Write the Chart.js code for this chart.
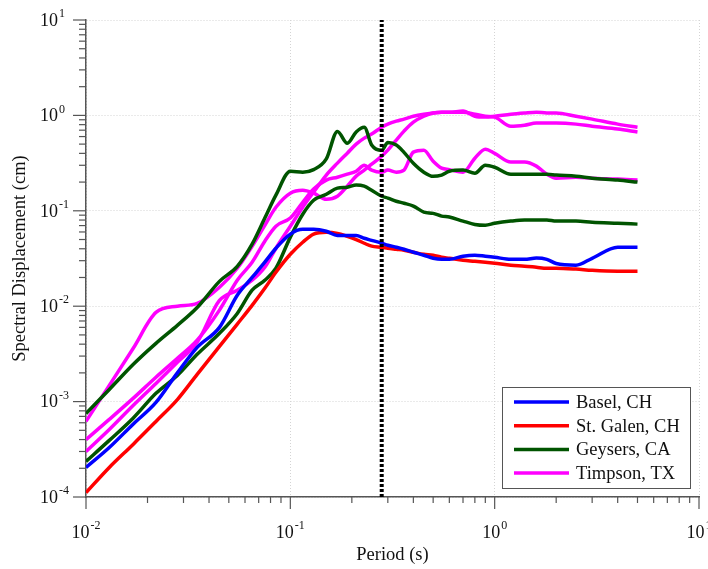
<!DOCTYPE html>
<html>
<head>
<meta charset="utf-8">
<script src="https://cdn.jsdelivr.net/npm/chart.js@4"></script>
<style>
  html, body { margin: 0; padding: 0; background: #fff; }
  canvas { display: block; }
</style>
</head>
<body>
<canvas id="spectraChart" width="708" height="569"></canvas>
<script>
// period grid (s) shared by all curves
const periods = [0.01, 0.013, 0.017, 0.022, 0.028, 0.035, 0.045, 0.055, 0.065, 0.075, 0.085,
  0.1, 0.115, 0.13, 0.15, 0.17, 0.19, 0.21, 0.23, 0.25, 0.28, 0.3, 0.33, 0.36, 0.4, 0.45,
  0.5, 0.55, 0.6, 0.7, 0.8, 0.9, 1.0, 1.2, 1.4, 1.6, 1.8, 2.0, 2.5, 3, 4, 5];

// spectral displacement (cm)
const baselDisp = [2.04e-4, 3.3e-4, 5.8e-4, 9.8e-4, 2.0e-3, 3.7e-3, 6.0e-3, 1.3e-2, 2.0e-2, 2.9e-2, 4.05e-2,
  5.7e-2, 6.4e-2, 6.4e-2, 6.1e-2, 5.5e-2, 5.5e-2, 5.5e-2, 5.15e-2, 4.9e-2, 4.57e-2, 4.36e-2, 4.15e-2, 3.95e-2, 3.68e-2, 3.42e-2,
  3.18e-2, 3.1e-2, 3.1e-2, 3.34e-2, 3.42e-2, 3.34e-2, 3.26e-2, 3.1e-2, 3.1e-2, 3.2e-2, 3.1e-2, 2.8e-2, 2.69e-2, 3.18e-2, 4.15e-2, 4.15e-2];
const stGalenDisp = [1.11e-4, 2.04e-4, 3.56e-4, 6.2e-4, 1.05e-3, 1.93e-3, 3.8e-3, 6.5e-3, 1.02e-2, 1.54e-2, 2.27e-2,
  3.5e-2, 4.68e-2, 5.7e-2, 5.95e-2, 5.8e-2, 5.4e-2, 5.0e-2, 4.57e-2, 4.26e-2, 4.15e-2, 4.05e-2, 3.95e-2, 3.86e-2, 3.68e-2, 3.5e-2,
  3.42e-2, 3.26e-2, 3.18e-2, 3.03e-2, 2.96e-2, 2.89e-2, 2.82e-2, 2.69e-2, 2.63e-2, 2.56e-2, 2.5e-2, 2.5e-2, 2.45e-2, 2.38e-2, 2.33e-2, 2.33e-2];
const geysersDispA = [7.5e-4, 1.34e-3, 2.45e-3, 4.08e-3, 6.3e-3, 9.7e-3, 1.82e-2, 2.62e-2, 4.47e-2, 8.4e-2, 0.146,
  0.26, 0.254, 0.27, 0.35, 0.68, 0.51, 0.67, 0.75, 0.49, 0.43, 0.52, 0.49, 0.41, 0.315, 0.254,
  0.23, 0.237, 0.26, 0.267, 0.248, 0.30, 0.286, 0.242, 0.242, 0.242, 0.242, 0.237, 0.23, 0.22, 0.21, 0.20];
const geysersDispB = [2.36e-4, 3.92e-4, 6.7e-4, 1.22e-3, 1.88e-3, 3.13e-3, 5.2e-3, 8.4e-3, 1.47e-2, 1.87e-2, 2.5e-2,
  5.3e-2, 9.2e-2, 0.129, 0.149, 0.173, 0.177, 0.186, 0.181, 0.164, 0.142, 0.136, 0.126, 0.12, 0.112, 0.097,
  0.094, 0.088, 0.086, 0.078, 0.072, 0.0706, 0.074, 0.078, 0.080, 0.080, 0.080, 0.078, 0.078, 0.076, 0.074, 0.0725];
const timpsonDispA = [6.2e-4, 1.48e-3, 3.6e-3, 8.6e-3, 1.0e-2, 1.07e-2, 1.58e-2, 2.5e-2, 4.25e-2, 7.06e-2, 0.109,
  0.153, 0.164, 0.153, 0.132, 0.142, 0.181, 0.231, 0.267, 0.308, 0.374, 0.432, 0.551, 0.684, 0.85, 0.98,
  1.06, 1.08, 1.08, 1.08, 1.03, 0.98, 0.96, 0.77, 0.79, 0.83, 0.83, 0.83, 0.81, 0.77, 0.72, 0.67];
const timpsonDispB = [4.0e-4, 6.5e-4, 1.08e-3, 1.8e-3, 2.84e-3, 4.4e-3, 9.1e-3, 1.87e-2, 2.89e-2, 4.8e-2, 6.9e-2,
  8.4e-2, 0.123, 0.169, 0.21, 0.225, 0.242, 0.26, 0.30, 0.267, 0.254, 0.267, 0.254, 0.267, 0.412, 0.432,
  0.331, 0.28, 0.27, 0.254, 0.356, 0.443, 0.40, 0.324, 0.324, 0.294, 0.242, 0.22, 0.225, 0.22, 0.215, 0.21];
const timpsonDispC = [3.0e-4, 5.1e-4, 9.1e-4, 1.55e-3, 2.58e-3, 4.18e-3, 1.15e-2, 1.47e-2, 1.87e-2, 2.56e-2, 4.05e-2,
  6.9e-2, 0.109, 0.157, 0.237, 0.316, 0.402, 0.50, 0.578, 0.637, 0.753, 0.81, 0.87, 0.914, 0.98, 1.03,
  1.06, 1.08, 1.08, 1.11, 0.98, 0.96, 0.98, 1.03, 1.06, 1.08, 1.06, 1.06, 0.98, 0.914, 0.81, 0.753];

const stations = ['Basel, CH', 'St. Galen, CH', 'Geysers, CA', 'Timpson, TX'];
const stationColors = ['#0000ff', '#ff0000', '#005400', '#ff00ff'];
const cutoffPeriod = 0.28;

const xMin = 0.01, xMax = 10;
const yMin = 1e-4, yMax = 10;
const xTickExponents = [-2, -1, 0, 1];
const yTickExponents = [-4, -3, -2, -1, 0, 1];

const serif = '"Liberation Serif", "Times New Roman", serif';

const curves = [
  { station: 0, values: baselDisp },
  { station: 1, values: stGalenDisp },
  { station: 2, values: geysersDispA },
  { station: 2, values: geysersDispB },
  { station: 3, values: timpsonDispA },
  { station: 3, values: timpsonDispB },
  { station: 3, values: timpsonDispC }
];

function toPoints(values) {
  return periods.map((p, i) => ({ x: p, y: values[i] }));
}

const datasets = [{
  label: 'cutoff',
  data: [{ x: cutoffPeriod, y: yMin }, { x: cutoffPeriod, y: yMax }],
  borderColor: '#000',
  borderWidth: 4,
  borderDash: [3, 2],
  pointRadius: 0
}].concat(curves.map(c => ({
  label: stations[c.station],
  data: toPoints(c.values),
  borderColor: stationColors[c.station],
  borderWidth: 3.5,
  pointRadius: 0,
  cubicInterpolationMode: 'monotone'
})));

// tick marks with long majors / short minors, and 10^n labels
const axisDecor = {
  id: 'axisDecor',
  afterDraw(chart) {
    const { ctx, chartArea: area } = chart;
    const x = chart.scales.x, y = chart.scales.y;
    ctx.save();
    ctx.strokeStyle = '#555';
    ctx.lineWidth = 1.2;
    yTickExponents.forEach(e => {
      for (let m = 1; m <= 9; m++) {
        const v = m * Math.pow(10, e);
        if (v > yMax * 1.0001) break;
        const py = y.getPixelForValue(v);
        ctx.beginPath();
        ctx.moveTo(area.left - (m === 1 ? 13 : 7), py);
        ctx.lineTo(area.left, py);
        ctx.stroke();
      }
    });
    xTickExponents.forEach(e => {
      for (let m = 1; m <= 9; m++) {
        const v = m * Math.pow(10, e);
        if (v > xMax * 1.0001) break;
        const px = x.getPixelForValue(v);
        ctx.beginPath();
        ctx.moveTo(px, area.bottom);
        ctx.lineTo(px, area.bottom + (m === 1 ? 12 : 6));
        ctx.stroke();
      }
    });

    ctx.fillStyle = '#111';
    ctx.textBaseline = 'middle';
    ctx.textAlign = 'left';
    yTickExponents.forEach(e => {
      const py = y.getPixelForValue(Math.pow(10, e));
      ctx.font = '18px ' + serif;
      ctx.fillText('10', 40, py + 1);
      const w = ctx.measureText('10').width;
      ctx.font = '12px ' + serif;
      ctx.fillText(String(e), 40 + w + 1, py - 6);
    });
    xTickExponents.forEach(e => {
      const px = x.getPixelForValue(Math.pow(10, e));
      ctx.font = '18px ' + serif;
      const w1 = ctx.measureText('10').width;
      ctx.font = '12px ' + serif;
      const w2 = ctx.measureText(String(e)).width;
      const start = px - (w1 + 1 + w2) / 2;
      ctx.font = '18px ' + serif;
      ctx.fillText('10', start, 533);
      ctx.font = '12px ' + serif;
      ctx.fillText(String(e), start + w1 + 1, 526);
    });
    ctx.restore();
  }
};

// boxed legend in the lower right corner
const boxLegend = {
  id: 'boxLegend',
  afterDraw(chart) {
    const ctx = chart.ctx;
    const bx = 502.5, by = 387.5, bw = 188, bh = 101;
    ctx.save();
    ctx.fillStyle = '#fff';
    ctx.fillRect(bx, by, bw, bh);
    ctx.strokeStyle = '#555';
    ctx.lineWidth = 1;
    ctx.strokeRect(bx, by, bw, bh);
    ctx.font = '18.5px ' + serif;
    ctx.textBaseline = 'middle';
    ctx.textAlign = 'left';
    stations.forEach((name, i) => {
      const ry = 402 + i * 23.7;
      ctx.strokeStyle = stationColors[i];
      ctx.lineWidth = 3.5;
      ctx.beginPath();
      ctx.moveTo(514, ry);
      ctx.lineTo(569, ry);
      ctx.stroke();
      ctx.fillStyle = '#111';
      ctx.fillText(name, 576, ry + 1);
    });
    ctx.restore();
  }
};

new Chart(document.getElementById('spectraChart'), {
  type: 'line',
  data: { datasets: datasets },
  options: {
    responsive: false,
    animation: false,
    layout: { padding: { top: 20, right: 9, left: 0, bottom: 0 } },
    plugins: {
      legend: { display: false },
      tooltip: { enabled: false }
    },
    scales: {
      x: {
        type: 'logarithmic',
        min: xMin,
        max: xMax,
        afterBuildTicks: axis => { axis.ticks = xTickExponents.map(e => ({ value: Math.pow(10, e) })); },
        afterFit: axis => { axis.height = 72; },
        ticks: { display: false },
        grid: { color: '#d4d4d4', lineWidth: 1, drawTicks: false },
        border: { color: '#555', width: 1.5, dash: [1, 2] },
        title: {
          display: true,
          text: 'Period (s)',
          color: '#111',
          font: { family: serif, size: 18.5 },
          padding: { top: 0, bottom: 3 }
        }
      },
      y: {
        type: 'logarithmic',
        min: yMin,
        max: yMax,
        afterBuildTicks: axis => { axis.ticks = yTickExponents.map(e => ({ value: Math.pow(10, e) })); },
        afterFit: axis => { axis.width = 86; },
        ticks: { display: false },
        grid: { color: '#d4d4d4', lineWidth: 1, drawTicks: false },
        border: { color: '#555', width: 1.5, dash: [1, 2] },
        title: {
          display: true,
          text: 'Spectral Displacement (cm)',
          color: '#111',
          font: { family: serif, size: 18.5 },
          padding: { top: 9, bottom: 0 }
        }
      }
    }
  },
  plugins: [axisDecor, boxLegend]
});
</script>
</body>
</html>
